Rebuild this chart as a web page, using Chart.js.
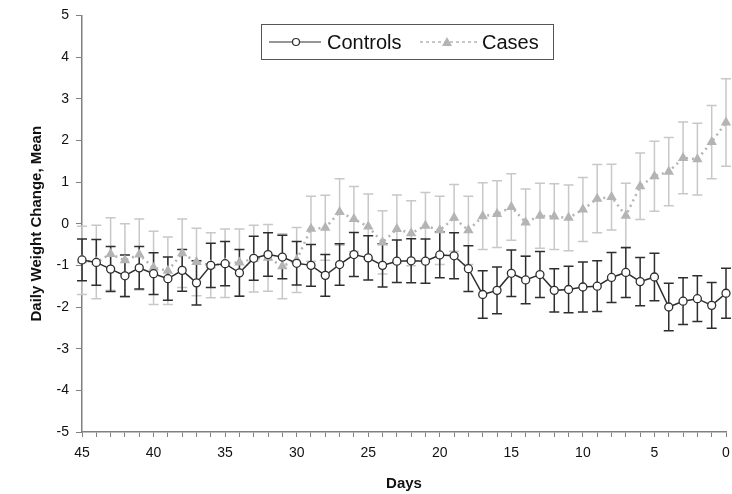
<!DOCTYPE html>
<html>
<head>
<meta charset="utf-8">
<title>Daily Weight Change</title>
<script src="https://cdn.jsdelivr.net/npm/chart.js@4.4.1/dist/chart.umd.min.js"></script>
<style>
  html, body { margin: 0; padding: 0; background: #fff; }
  #wrap { width: 732px; height: 494px; }
</style>
</head>
<body>
<div id="wrap"><canvas id="chart" width="732" height="494"></canvas></div>
<script>
/* global Chart */

const days = [45, 44, 43, 42, 41, 40, 39, 38, 37, 36, 35, 34, 33, 32, 31, 30,
  29, 28, 27, 26, 25, 24, 23, 22, 21, 20, 19, 18, 17, 16, 15, 14, 13, 12, 11,
  10, 9, 8, 7, 6, 5, 4, 3, 2, 1, 0]

const controlsMean = [-0.87, -0.93, -1.09, -1.25, -1.06, -1.2, -1.32, -1.12, -1.42, -1.0,
  -0.96, -1.18, -0.83, -0.74, -0.8, -0.95, -1.0, -1.24, -0.98, -0.74, -0.82, -1.0, -0.9,
  -0.89, -0.9, -0.75, -0.77, -1.08, -1.7, -1.6, -1.19, -1.35, -1.22, -1.6, -1.58, -1.52,
  -1.5, -1.29, -1.17, -1.39, -1.28, -2.0, -1.86, -1.8, -1.96, -1.67]
const controlsErr = [0.5, 0.55, 0.54, 0.5, 0.51, 0.5, 0.52, 0.5, 0.53, 0.53, 0.53, 0.56,
  0.53, 0.52, 0.52, 0.52, 0.5, 0.5, 0.5, 0.53, 0.53, 0.52, 0.51, 0.53, 0.53, 0.55, 0.55,
  0.55, 0.57, 0.56, 0.56, 0.57, 0.55, 0.52, 0.56, 0.6, 0.61, 0.6, 0.6, 0.58, 0.57, 0.57,
  0.56, 0.55, 0.55, 0.6]

const casesMean = [-0.88, -0.92, -0.73, -0.88, -0.74, -1.06, -1.13, -0.71, -0.92, -1.0,
  -0.95, -0.93, -0.84, -0.82, -1.02, -0.87, -0.12, -0.1, 0.28, 0.11, -0.07, -0.45, -0.13,
  -0.23, -0.05, -0.16, 0.14, -0.16, 0.18, 0.23, 0.4, 0.03, 0.19, 0.17, 0.14, 0.34, 0.6,
  0.64, 0.19, 0.9, 1.14, 1.25, 1.58, 1.55, 1.96, 2.43]
const casesErr = [0.82, 0.88, 0.87, 0.88, 0.85, 0.88, 0.81, 0.82, 0.81, 0.78, 0.82, 0.8,
  0.8, 0.8, 0.78, 0.78, 0.78, 0.78, 0.8, 0.78, 0.78, 0.76, 0.82, 0.78, 0.8, 0.82, 0.8,
  0.82, 0.8, 0.8, 0.8, 0.8, 0.78, 0.79, 0.79, 0.77, 0.82, 0.79, 0.78, 0.8, 0.84, 0.82,
  0.86, 0.86, 0.88, 1.05]

const FONT = "'Liberation Sans', Arial, Helvetica, sans-serif"
const DARK = '#2e2e2e'
const LIGHT = '#b4b4b4'
const LIGHT_BAR = '#c8c8c8'
const AXIS = '#808080'

const toPoints = (means) => days.map((d, i) => ({ x: d, y: means[i] }))

// vertical error bars with caps, drawn under the lines
const errorBars = {
  id: 'errorBars',
  beforeDatasetsDraw (chart) {
    const { ctx, scales: { x, y } } = chart
    const sets = [
      { mean: casesMean, err: casesErr, color: LIGHT_BAR },
      { mean: controlsMean, err: controlsErr, color: DARK }
    ]
    ctx.save()
    ctx.lineWidth = 1.5
    sets.forEach(s => {
      ctx.strokeStyle = s.color
      days.forEach((d, i) => {
        const px = x.getPixelForValue(d)
        const top = y.getPixelForValue(s.mean[i] + s.err[i])
        const bot = y.getPixelForValue(s.mean[i] - s.err[i])
        ctx.beginPath()
        ctx.moveTo(px, top); ctx.lineTo(px, bot)
        ctx.moveTo(px - 5, top); ctx.lineTo(px + 5, top)
        ctx.moveTo(px - 5, bot); ctx.lineTo(px + 5, bot)
        ctx.stroke()
      })
    })
    ctx.restore()
  }
}

// boxed legend like the original figure
const boxLegend = {
  id: 'boxLegend',
  afterDraw (chart) {
    const ctx = chart.ctx
    ctx.save()
    ctx.fillStyle = '#fff'
    ctx.fillRect(261, 24, 293, 35)
    ctx.strokeStyle = '#555'
    ctx.lineWidth = 1
    ctx.strokeRect(261.5, 24.5, 292, 35)

    const midY = 42
    ctx.strokeStyle = DARK
    ctx.lineWidth = 1.2
    ctx.beginPath(); ctx.moveTo(269, midY); ctx.lineTo(321, midY); ctx.stroke()
    ctx.beginPath(); ctx.arc(296, midY, 3.5, 0, Math.PI * 2)
    ctx.fillStyle = '#fff'; ctx.fill(); ctx.stroke()

    ctx.strokeStyle = LIGHT
    ctx.lineWidth = 1.5
    ctx.setLineDash([3, 3])
    ctx.beginPath(); ctx.moveTo(420, midY); ctx.lineTo(480, midY); ctx.stroke()
    ctx.setLineDash([])
    ctx.fillStyle = LIGHT
    ctx.beginPath()
    ctx.moveTo(447, midY - 5); ctx.lineTo(452, midY + 4); ctx.lineTo(442, midY + 4)
    ctx.closePath(); ctx.fill()

    ctx.fillStyle = '#111'
    ctx.font = '20px ' + FONT
    ctx.textBaseline = 'middle'
    ctx.fillText('Controls', 327, midY + 1)
    ctx.fillText('Cases', 482, midY + 1)
    ctx.restore()
  }
}

new Chart(document.getElementById('chart').getContext('2d'), {
  type: 'line',
  data: {
    datasets: [
      {
        label: 'Controls',
        data: toPoints(controlsMean),
        borderColor: DARK,
        borderWidth: 1.5,
        pointStyle: 'circle',
        pointRadius: 4,
        pointBorderWidth: 1.3,
        pointBackgroundColor: '#fff',
        pointBorderColor: DARK,
        tension: 0,
        clip: false
      },
      {
        label: 'Cases',
        data: toPoints(casesMean),
        borderColor: LIGHT,
        borderWidth: 2.5,
        borderDash: [2, 4],
        pointStyle: 'triangle',
        pointRadius: 6,
        pointBorderWidth: 0,
        pointBackgroundColor: LIGHT,
        pointBorderColor: LIGHT,
        tension: 0,
        clip: false
      }
    ]
  },
  options: {
    responsive: false,
    animation: false,
    layout: { padding: { top: 14, right: 0, bottom: 0, left: 0 } },
    plugins: { legend: { display: false }, tooltip: { enabled: false } },
    scales: {
      x: {
        type: 'linear',
        min: 0,
        max: 45,
        reverse: true,
        afterFit: (s) => {
          s.height = 62
          s.paddingLeft = 0
          s.paddingRight = 4
        },
        border: { color: AXIS, width: 1.5 },
        grid: { drawOnChartArea: false, drawTicks: true, tickLength: 5, color: AXIS },
        ticks: {
          stepSize: 1,
          autoSkip: false,
          maxRotation: 0,
          padding: 8,
          color: '#111',
          font: { family: FONT, size: 14 },
          callback: (v) => (v % 5 === 0 ? String(v) : '')
        },
        title: {
          display: true,
          text: 'Days',
          color: '#111',
          font: { family: FONT, size: 15, weight: 'bold' },
          padding: { top: 0, bottom: 1 }
        }
      },
      y: {
        min: -5,
        max: 5,
        afterFit: (s) => { s.width = 82 },
        border: { color: AXIS, width: 1.5 },
        grid: { drawOnChartArea: false, drawTicks: true, tickLength: 6, color: AXIS },
        ticks: {
          stepSize: 1,
          padding: 7,
          color: '#111',
          font: { family: FONT, size: 14 }
        },
        title: {
          display: true,
          text: 'Daily Weight Change, Mean',
          color: '#111',
          font: { family: FONT, size: 15, weight: 'bold' },
          padding: { top: 28, bottom: 0 }
        }
      }
    }
  },
  plugins: [errorBars, boxLegend]
})
</script>
</body>
</html>
